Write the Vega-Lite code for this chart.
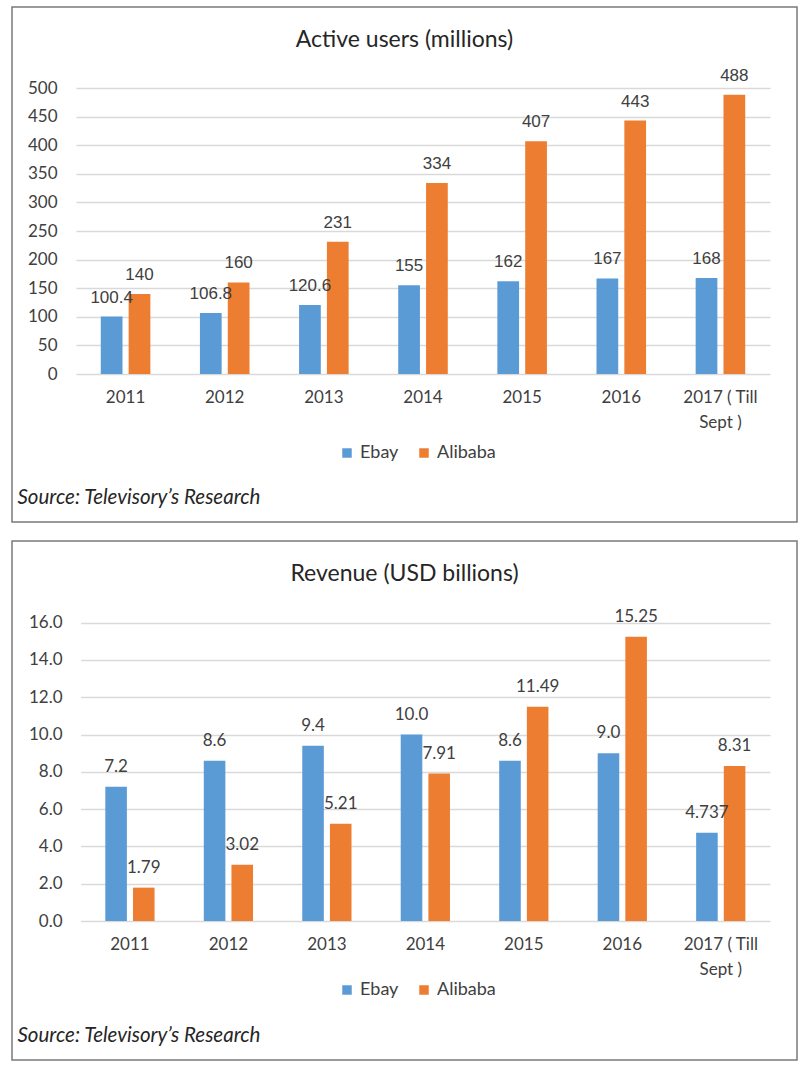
{
  "$schema": "https://vega.github.io/schema/vega-lite/v6.json",
  "padding": {"left": 11, "top": 6, "right": 0, "bottom": 0},
  "background": "white",
  "spacing": 17,
  "datasets": {
    "users": [
      {"year": "2011", "company": "Ebay", "value": 100.4, "label": "100.4"},
      {"year": "2011", "company": "Alibaba", "value": 140, "label": "140"},
      {"year": "2012", "company": "Ebay", "value": 106.8, "label": "106.8"},
      {"year": "2012", "company": "Alibaba", "value": 160, "label": "160"},
      {"year": "2013", "company": "Ebay", "value": 120.6, "label": "120.6"},
      {"year": "2013", "company": "Alibaba", "value": 231, "label": "231"},
      {"year": "2014", "company": "Ebay", "value": 155, "label": "155"},
      {"year": "2014", "company": "Alibaba", "value": 334, "label": "334"},
      {"year": "2015", "company": "Ebay", "value": 162, "label": "162"},
      {"year": "2015", "company": "Alibaba", "value": 407, "label": "407"},
      {"year": "2016", "company": "Ebay", "value": 167, "label": "167"},
      {"year": "2016", "company": "Alibaba", "value": 443, "label": "443"},
      {"year": "2017 ( Till Sept )", "company": "Ebay", "value": 168, "label": "168"},
      {"year": "2017 ( Till Sept )", "company": "Alibaba", "value": 488, "label": "488"}
    ],
    "revenue": [
      {"year": "2011", "company": "Ebay", "value": 7.2, "label": "7.2"},
      {"year": "2011", "company": "Alibaba", "value": 1.79, "label": "1.79"},
      {"year": "2012", "company": "Ebay", "value": 8.6, "label": "8.6"},
      {"year": "2012", "company": "Alibaba", "value": 3.02, "label": "3.02"},
      {"year": "2013", "company": "Ebay", "value": 9.4, "label": "9.4"},
      {"year": "2013", "company": "Alibaba", "value": 5.21, "label": "5.21"},
      {"year": "2014", "company": "Ebay", "value": 10.0, "label": "10.0"},
      {"year": "2014", "company": "Alibaba", "value": 7.91, "label": "7.91"},
      {"year": "2015", "company": "Ebay", "value": 8.6, "label": "8.6"},
      {"year": "2015", "company": "Alibaba", "value": 11.49, "label": "11.49"},
      {"year": "2016", "company": "Ebay", "value": 9.0, "label": "9.0"},
      {"year": "2016", "company": "Alibaba", "value": 15.25, "label": "15.25"},
      {"year": "2017 ( Till Sept )", "company": "Ebay", "value": 4.737, "label": "4.737"},
      {"year": "2017 ( Till Sept )", "company": "Alibaba", "value": 8.31, "label": "8.31"}
    ]
  },
  "vconcat": [
    {
      "width": 785,
      "height": 515,
      "data": {"name": "users"},
      "title": {"text": "Active users (millions)", "frame": "group", "anchor": "middle", "orient": "top", "offset": -63, "baseline": "alphabetic", "font": "Lato", "fontSize": 23, "fontWeight": "normal", "color": "#262626"},
      "encoding": {
        "x": {
          "field": "year", "type": "nominal", "sort": null,
          "scale": {"range": [64, 758], "paddingInner": 0.5, "paddingOuter": 0.25},
          "axis": {
            "orient": "bottom", "offset": -148, "domain": false, "ticks": false, "grid": false,
            "labelAngle": 0, "labelFont": "Lato", "labelFontSize": 17, "labelColor": "#404040", "labelPadding": 15, "labelLineHeight": 25,
            "labelExpr": "datum.label == '2017 ( Till Sept )' ? ['2017 ( Till', 'Sept )'] : datum.label",
            "title": "Source: Televisory’s Research", "titleX": 5, "titleY": 123, "titleAlign": "left", "titleBaseline": "middle",
            "titleFont": "Lato", "titleFontStyle": "italic", "titleFontWeight": "normal", "titleFontSize": 20.5, "titleColor": "#262626"
          }
        },
        "xOffset": {"field": "company", "type": "nominal", "sort": ["Ebay", "Alibaba"], "scale": {"paddingInner": 0.22, "paddingOuter": 0}},
        "y": {
          "field": "value", "type": "quantitative",
          "scale": {"domain": [0, 500], "range": [367, 81], "nice": false},
          "axis": {
            "orient": "left", "offset": -64, "values": [0, 50, 100, 150, 200, 250, 300, 350, 400, 450, 500],
            "domain": false, "ticks": false, "grid": true, "gridColor": "#d9d9d9", "gridWidth": 1.3,
            "labelFont": "Lato", "labelFontSize": 17, "labelColor": "#404040", "labelPadding": 19, "title": null
          }
        }
      },
      "layer": [
        {
          "mark": {"type": "bar"},
          "encoding": {
            "color": {
              "field": "company", "type": "nominal",
              "scale": {"domain": ["Ebay", "Alibaba"], "range": ["#5B9BD5", "#ED7D31"]},
              "legend": {
                "orient": "none", "legendX": 326, "legendY": 437, "direction": "horizontal", "title": null,
                "symbolType": "square", "symbolSize": 90, "symbolStrokeWidth": 0, "symbolOpacity": 1,
                "labelFont": "Lato", "labelFontSize": 18, "labelColor": "#404040", "labelOffset": 4, "columnPadding": 16, "padding": 0
              }
            }
          }
        },
        {
          "mark": {"type": "text", "baseline": "alphabetic", "dy": -14, "font": "Liberation Sans", "fontSize": 17, "color": "#404040"},
          "encoding": {"text": {"field": "label", "type": "nominal"}}
        }
      ]
    },
    {
      "width": 785,
      "height": 519,
      "data": {"name": "revenue"},
      "title": {"text": "Revenue (USD billions)", "frame": "group", "anchor": "middle", "orient": "top", "offset": -63, "baseline": "alphabetic", "font": "Lato", "fontSize": 23, "fontWeight": "normal", "color": "#262626"},
      "encoding": {
        "x": {
          "field": "year", "type": "nominal", "sort": null,
          "scale": {"range": [68.7, 758], "paddingInner": 0.5, "paddingOuter": 0.25},
          "axis": {
            "orient": "bottom", "offset": -139, "domain": false, "ticks": false, "grid": false,
            "labelAngle": 0, "labelFont": "Lato", "labelFontSize": 17, "labelColor": "#404040", "labelPadding": 15, "labelLineHeight": 25,
            "labelExpr": "datum.label == '2017 ( Till Sept )' ? ['2017 ( Till', 'Sept )'] : datum.label",
            "title": "Source: Televisory’s Research", "titleX": 5, "titleY": 114, "titleAlign": "left", "titleBaseline": "middle",
            "titleFont": "Lato", "titleFontStyle": "italic", "titleFontWeight": "normal", "titleFontSize": 20.5, "titleColor": "#262626"
          }
        },
        "xOffset": {"field": "company", "type": "nominal", "sort": ["Ebay", "Alibaba"], "scale": {"paddingInner": 0.22, "paddingOuter": 0}},
        "y": {
          "field": "value", "type": "quantitative",
          "scale": {"domain": [0, 16], "range": [380, 81.7], "nice": false},
          "axis": {
            "orient": "left", "offset": -68.7, "values": [0, 2, 4, 6, 8, 10, 12, 14, 16], "format": ".1f",
            "domain": false, "ticks": false, "grid": true, "gridColor": "#d9d9d9", "gridWidth": 1.3,
            "labelFont": "Lato", "labelFontSize": 17, "labelColor": "#404040", "labelPadding": 18.7, "title": null
          }
        }
      },
      "layer": [
        {
          "mark": {"type": "bar"},
          "encoding": {
            "color": {
              "field": "company", "type": "nominal",
              "scale": {"domain": ["Ebay", "Alibaba"], "range": ["#5B9BD5", "#ED7D31"]},
              "legend": {
                "orient": "none", "legendX": 326, "legendY": 440, "direction": "horizontal", "title": null,
                "symbolType": "square", "symbolSize": 90, "symbolStrokeWidth": 0, "symbolOpacity": 1,
                "labelFont": "Lato", "labelFontSize": 18, "labelColor": "#404040", "labelOffset": 4, "columnPadding": 16, "padding": 0
              }
            }
          }
        },
        {
          "mark": {"type": "text", "baseline": "alphabetic", "dy": -15, "font": "Lato", "fontSize": 17, "color": "#404040"},
          "encoding": {"text": {"field": "label", "type": "nominal"}}
        }
      ]
    }
  ],
  "resolve": {"scale": {"color": "independent", "x": "independent", "y": "independent", "xOffset": "independent"}},
  "config": {
    "view": {"stroke": "#7a7a7a", "strokeWidth": 1.5},
    "font": "Lato"
  }
}
